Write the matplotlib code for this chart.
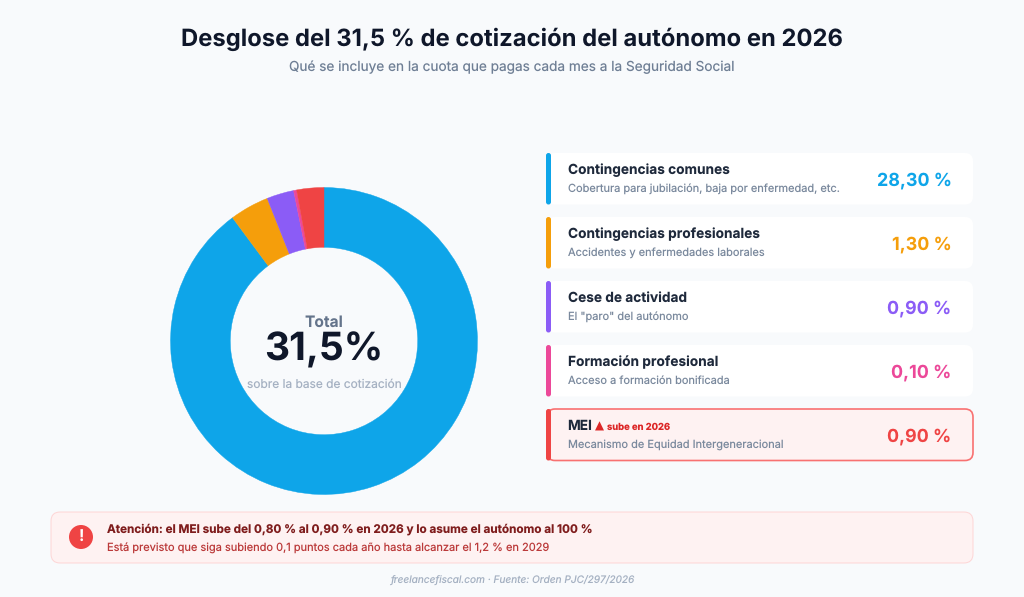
import matplotlib
matplotlib.use("Agg")
import matplotlib.pyplot as plt
from matplotlib.patches import FancyBboxPatch, Circle

# tipos de cotizacion, en el orden de la lista
names = ["Contingencias comunes", "Contingencias profesionales", "Cese de actividad",
         "Formación profesional", "MEI"]
details = ["Cobertura para jubilación, baja por enfermedad, etc.",
           "Accidentes y enfermedades laborales",
           'El "paro" del autónomo',
           "Acceso a formación bonificada",
           "Mecanismo de Equidad Intergeneracional"]
rates = [28.30, 1.30, 0.90, 0.10, 0.90]
rate_labels = ["28,30 %", "1,30 %", "0,90 %", "0,10 %", "0,90 %"]
colors = ["#0ea5e9", "#f59e0b", "#8b5cf6", "#ec4899", "#ef4444"]

plt.rcParams["font.family"] = ["Inter", "DejaVu Sans"]
plt.rcParams["text.hinting"] = "none"

BG = "#f8fafc"
W, H = 1024, 597

fig = plt.figure(figsize=(W / 100, H / 100), dpi=100, facecolor=BG)

# capa en pixeles para cards y textos
ax = fig.add_axes([0, 0, 1, 1])
ax.set_xlim(0, W)
ax.set_ylim(H, 0)
ax.axis("off")


def card(x0, y0, x1, y1, face, edge="none", lw=0, r=8, z=1):
    p = FancyBboxPatch((x0 + r, y0 + r), x1 - x0 - 2 * r, y1 - y0 - 2 * r,
                       boxstyle=f"round,pad={r},rounding_size={r}",
                       facecolor=face, edgecolor=edge, linewidth=lw, zorder=z)
    ax.add_patch(p)


ax.text(512, 39, "Desglose del 31,5 % de cotización del autónomo en 2026", ha="center", va="center",
        fontsize=17.15, fontweight="bold", color="#0f172a")
ax.text(512, 67.5, "Qué se incluye en la cuota que pagas cada mes a la Seguridad Social", ha="center",
        va="center", fontsize=9.8, color="#6f7f95")

# donut
cx, cy, R = 324, 341, 153.5
pie_ax = fig.add_axes([(cx - R) / W, 1 - (cy + R) / H, 2 * R / W, 2 * R / H])
wedges, _ = pie_ax.pie(rates, colors=colors, startangle=90, counterclock=False, radius=1,
                       wedgeprops={"width": 1 - 93.7 / 153.5})
for w, c in zip(wedges, colors):
    w.set_edgecolor(c)
    w.set_linewidth(0.3)
pie_ax.set_xlim(-1, 1)
pie_ax.set_ylim(-1, 1)

ax.set_zorder(2)
ax.patch.set_alpha(0)
ax.text(cx, 323, "Total", ha="center", va="center", fontsize=11.2, fontweight="bold", color="#64748b")
ax.text(cx, 350.5, "31,5%", ha="center", va="center", fontsize=28, fontweight="bold", color="#0f172a")
ax.text(cx, 385, "sobre la base de cotización", ha="center", va="center", fontsize=8.6, color="#a5b1c2")

# lista de la derecha
tops = [153, 217, 281, 345, 409]
for i, top in enumerate(tops):
    bottom = top + 51.5
    is_mei = names[i] == "MEI"
    if is_mei:
        card(547, top, 973, bottom, "#fef2f2", "#f87171", 1.2, z=1)
    else:
        card(547, top, 973, bottom, "#ffffff", z=1)
    card(546, top, 551, bottom, colors[i], r=2.5, z=2)
    ax.text(567.5, top + 17.5, names[i], ha="left", va="center", fontsize=9.85, fontweight="bold", color="#1e293b")
    ax.text(567.5, top + 36, details[i], ha="left", va="center", fontsize=7.93, color="#7a899d")
    ax.text(951.5, top + 28, rate_labels[i], ha="right", va="center", fontsize=12.9, fontweight="bold", color=colors[i])

ax.text(595, 426, "▲", ha="left", va="center", fontsize=8.5, color="#dc2626", family="DejaVu Sans")
ax.text(607, 427, "sube en 2026", ha="left", va="center", fontsize=6.8, fontweight="bold", color="#dc2626")

# aviso inferior
card(51, 512, 973, 563, "#fef2f2", "#fed5d5", 0.7, r=9)
ax.add_patch(Circle((81, 537), 12, facecolor="#ef4444", edgecolor="none", zorder=2))
ax.text(81, 537.5, "!", ha="center", va="center", fontsize=11.5, fontweight="bold", color="white", zorder=3)
ax.text(107, 529.5, "Atención: el MEI sube del 0,80 % al 0,90 % en 2026 y lo asume el autónomo al 100 %",
        ha="left", va="center", fontsize=8.45, fontweight="bold", color="#7f1d1d")
ax.text(107, 548, "Está previsto que siga subiendo 0,1 puntos cada año hasta alcanzar el 1,2 % en 2029",
        ha="left", va="center", fontsize=7.95, color="#bb3a3a")

ax.text(512, 581, "freelancefiscal.com · Fuente: Orden PJC/297/2026", ha="center", va="center",
        fontsize=7.27, style="italic", color="#a5b1c2")

fig.savefig("out.png", dpi=100, facecolor=BG)
